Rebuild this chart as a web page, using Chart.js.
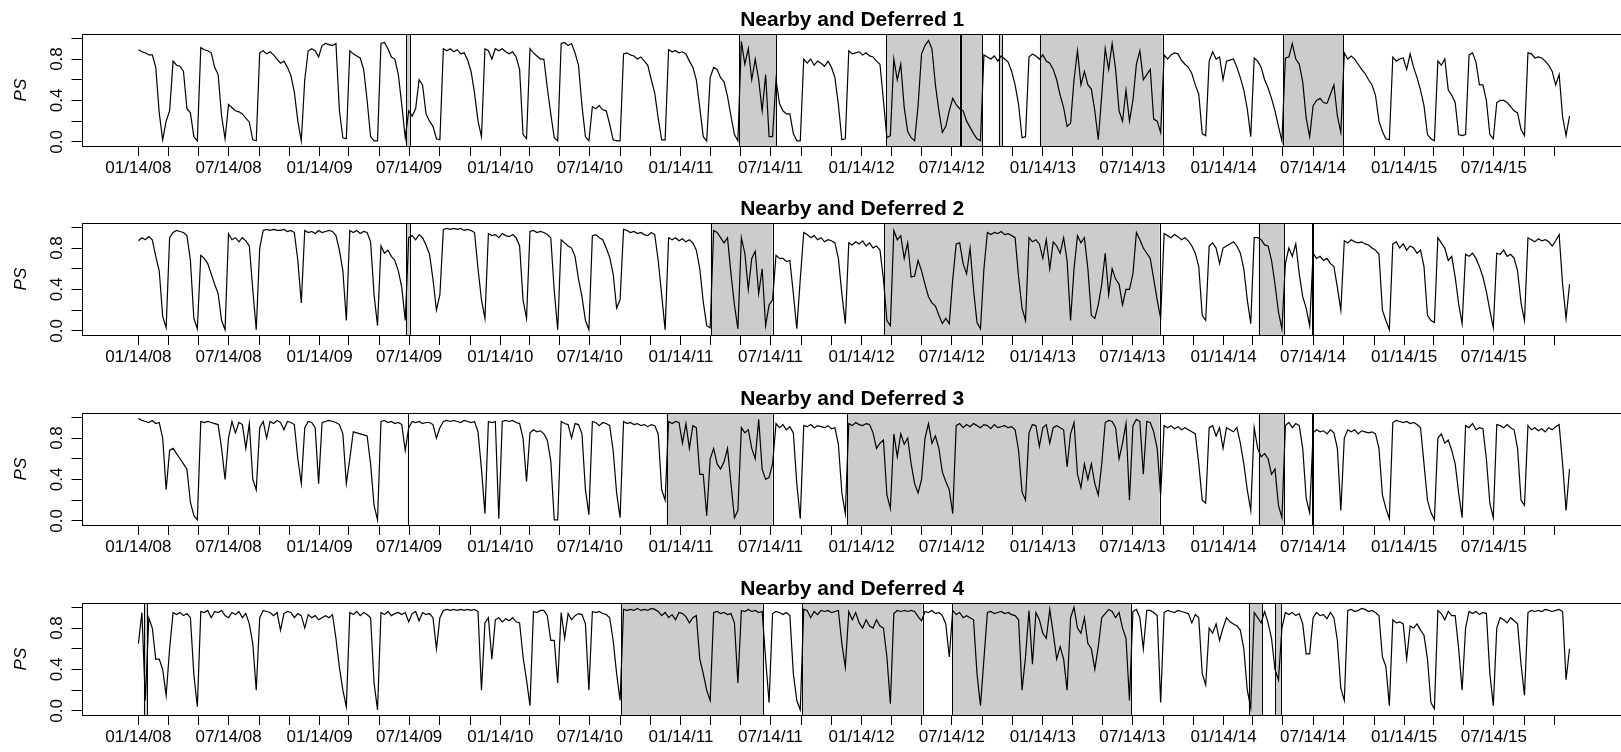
<!DOCTYPE html>
<html>
<head>
<meta charset="utf-8">
<script src="https://cdn.jsdelivr.net/npm/chart.js@4/dist/chart.umd.min.js"></script>
<style>
  html, body { margin: 0; padding: 0; background: #fff; overflow: hidden; width: 1621px; height: 752px; }
  .panel { position: absolute; left: 0; width: 1625px; height: 190px; }
</style>
</head>
<body>
<div class="panel" style="top:0px"><canvas id="c0" width="1625" height="190"></canvas></div>
<div class="panel" style="top:189px"><canvas id="c1" width="1625" height="190"></canvas></div>
<div class="panel" style="top:379px"><canvas id="c2" width="1625" height="190"></canvas></div>
<div class="panel" style="top:569px"><canvas id="c3" width="1625" height="190"></canvas></div>
<script>
// Weekly PS observations, starting 2008-01-14
const startDate = '2008-01-14';
const stepDays = 7;

const ps1 = [
0.89,0.87,0.86,0.84,0.84,0.72,0.28,0.02,0.2,0.3,
0.78,0.74,0.73,0.68,0.32,0.28,0.05,0.01,0.91,0.89,
0.88,0.86,0.72,0.65,0.25,0.03,0.36,0.33,0.30,0.29,
0.27,0.23,0.19,0.02,0.01,0.86,0.88,0.85,0.87,0.84,
0.8,0.76,0.78,0.72,0.64,0.48,0.2,0.01,0.6,0.88,
0.9,0.88,0.82,0.93,0.95,0.94,0.93,0.95,0.3,0.04,
0.03,0.88,0.85,0.83,0.81,0.7,0.4,0.05,0.01,0.01,
0.95,0.96,0.9,0.82,0.8,0.65,0.36,0.04,0.3,0.25,
0.32,0.6,0.55,0.27,0.2,0.15,0.03,0.02,0.9,0.88,
0.9,0.87,0.89,0.85,0.86,0.79,0.68,0.47,0.2,0.05,
0.9,0.88,0.8,0.9,0.88,0.9,0.87,0.85,0.87,0.82,
0.7,0.07,0.03,0.9,0.86,0.83,0.8,
0.8,0.52,0.27,0.04,0.01,0.95,0.96,0.93,0.95,0.86,
0.74,0.35,0.05,0.01,0.34,0.32,0.35,0.31,0.3,0.17,
0.02,0.01,0.01,0.85,0.86,0.84,0.83,0.8,0.82,0.78,
0.74,0.6,0.47,0.23,0.02,0.02,0.89,0.87,0.88,0.86,
0.87,0.85,0.78,0.72,0.6,0.33,0.05,0.01,0.62,0.72,
0.7,0.62,0.58,0.44,0.25,0.07,0.01,0.97,0.75,0.9,
0.6,0.8,0.6,0.3,0.65,0.05,0.05,0.6,0.37,0.3,
0.27,0.27,0.08,0.01,0.01,0.8,0.76,0.8,0.74,0.78,
0.76,0.73,0.78,0.72,0.62,0.36,0.02,0.03,0.88,0.85,
0.86,0.87,0.84,0.86,0.83,0.82,0.78,0.75,0.4,0.04,
0.06,0.8,0.6,0.75,0.33,0.1,0.04,0.01,0.35,0.85,
0.93,0.98,0.9,0.55,0.3,0.09,0.15,0.3,0.42,0.36,
0.32,0.3,0.2,0.14,0.08,0.03,0.01,0.84,0.82,0.8,
0.83,0.78,0.83,0.8,0.77,0.68,0.55,0.36,0.04,0.05,
0.82,0.85,0.83,0.8,0.84,0.78,0.76,0.7,0.6,0.45,
0.33,0.15,0.18,0.6,0.88,0.55,
0.68,0.55,0.51,0.3,0.02,0.45,0.9,0.7,0.95,0.7,
0.3,0.2,0.5,0.2,0.4,0.75,0.88,0.6,0.65,0.7,
0.22,0.2,0.09,0.84,0.8,0.84,0.86,0.85,0.79,0.75,
0.72,0.66,0.55,0.46,0.08,0.06,0.78,0.87,0.8,0.82,
0.6,0.78,0.79,0.8,0.72,0.62,0.5,0.32,0.05,0.81,
0.78,0.72,0.6,0.52,0.42,0.3,0.15,0.01,0.81,0.82,
0.95,0.8,0.75,0.58,0.23,0.05,0.35,0.4,0.42,0.38,
0.37,0.46,0.55,0.25,0.09,0.86,0.8,0.83,0.8,0.75,
0.7,0.66,0.6,0.55,0.45,0.2,0.1,0.03,0.02,0.82,
0.78,0.8,0.81,0.7,0.85,0.72,0.62,0.5,0.35,0.07,
0.03,0.01,0.78,0.74,0.8,0.5,0.45,0.38,0.07,0.06,
0.07,0.84,0.86,0.77,0.55,0.55,0.4,0.07,0.03,0.38,
0.4,0.4,0.38,0.34,0.3,0.28,0.12,0.06,0.86,0.85,
0.81,0.82,0.81,0.78,0.74,0.68,0.55,0.65,0.24,0.06,0.25
];

const ps2 = [
0.87,0.9,0.88,0.91,0.88,0.72,0.58,0.14,0.03,0.9,
0.95,0.97,0.96,0.95,0.92,0.68,0.12,0.02,0.73,0.7,
0.65,0.55,0.45,0.36,0.1,0.01,0.94,0.88,0.9,0.86,
0.9,0.87,0.82,0.4,0.01,0.8,0.97,0.98,0.97,0.98,
0.97,0.97,0.98,0.96,0.97,0.95,0.68,0.27,0.97,0.95,
0.96,0.94,0.97,0.95,0.96,0.97,0.96,0.92,0.78,0.58,
0.1,0.97,0.95,0.97,0.94,0.96,0.95,0.86,0.35,0.05,
0.82,0.75,0.78,0.72,0.68,0.58,0.42,0.1,0.9,0.92,
0.88,0.93,0.9,0.83,0.74,0.5,0.2,0.35,0.98,0.99,
0.98,0.99,0.98,0.99,0.97,0.98,0.97,0.95,0.6,0.3,
0.12,0.94,0.92,0.93,0.9,0.94,0.92,0.91,0.93,0.9,
0.82,0.3,0.12,0.96,0.97,0.95,0.96,
0.95,0.93,0.9,0.39,0.01,0.88,0.85,0.82,0.8,0.72,
0.5,0.33,0.1,0.01,0.92,0.93,0.9,0.88,0.8,0.71,
0.55,0.22,0.3,0.98,0.97,0.95,0.96,0.94,0.95,0.93,
0.92,0.95,0.93,0.68,0.35,0.01,0.9,0.88,0.9,0.87,
0.89,0.86,0.88,0.85,0.78,0.6,0.28,0.05,0.03,0.97,
0.95,0.9,0.85,0.9,0.55,0.25,0.02,0.9,0.75,0.4,
0.7,0.77,0.36,0.6,0.05,0.25,0.3,0.73,0.7,0.7,
0.67,0.68,0.36,0.02,0.5,0.95,0.93,0.9,0.92,0.88,
0.9,0.86,0.88,0.87,0.85,0.7,0.36,0.07,0.85,0.83,
0.86,0.84,0.87,0.82,0.85,0.8,0.82,0.78,0.5,0.1,
0.05,0.97,0.88,0.92,0.7,0.85,0.52,0.53,0.68,0.58,
0.45,0.33,0.27,0.24,0.15,0.07,0.12,0.07,0.5,0.84,
0.85,0.65,0.55,0.8,0.4,0.08,0.02,0.6,0.95,0.93,
0.95,0.94,0.96,0.93,0.94,0.92,0.9,0.52,0.22,0.1,
0.9,0.86,0.88,0.84,0.7,0.88,0.6,0.86,0.82,0.75,
0.9,0.68,0.1,0.6,0.92,0.85,
0.9,0.6,0.15,0.12,0.25,0.45,0.75,0.35,0.6,0.5,
0.45,0.25,0.4,0.4,0.55,0.95,0.88,0.8,0.75,0.7,
0.5,0.3,0.12,0.94,0.92,0.9,0.93,0.91,0.88,0.9,
0.87,0.82,0.75,0.62,0.15,0.1,0.82,0.85,0.8,0.65,
0.8,0.82,0.84,0.86,0.82,0.75,0.6,0.3,0.07,0.9,
0.9,0.88,0.83,0.82,0.68,0.45,0.18,0.02,0.65,0.8,
0.72,0.84,0.55,0.33,0.22,0.05,0.75,0.7,0.72,0.68,
0.7,0.65,0.62,0.42,0.2,0.87,0.85,0.88,0.86,0.85,
0.86,0.84,0.83,0.8,0.78,0.74,0.2,0.1,0.01,0.84,
0.86,0.8,0.84,0.78,0.82,0.8,0.75,0.78,0.62,0.15,
0.1,0.08,0.9,0.85,0.8,0.68,0.72,0.52,0.26,0.07,
0.74,0.72,0.75,0.7,0.62,0.52,0.38,0.2,0.03,0.75,
0.74,0.78,0.72,0.74,0.7,0.58,0.27,0.1,0.9,0.88,
0.86,0.89,0.87,0.88,0.86,0.82,0.87,0.93,0.45,0.12,0.45
];

const ps3 = [
0.99,0.97,0.96,0.95,0.97,0.94,0.95,0.8,0.3,0.68,
0.7,0.65,0.6,0.55,0.5,0.18,0.05,0.01,0.96,0.95,
0.96,0.95,0.94,0.93,0.7,0.4,0.8,0.96,0.85,0.95,
0.93,0.7,0.94,0.4,0.3,0.9,0.96,0.8,0.96,0.94,
0.97,0.95,0.88,0.96,0.95,0.93,0.6,0.36,0.9,0.96,
0.95,0.9,0.36,0.95,0.96,0.97,0.96,0.95,0.93,0.84,
0.36,0.6,0.86,0.85,0.84,0.83,0.82,0.55,0.15,0.01,
0.96,0.97,0.95,0.96,0.94,0.95,0.93,0.68,0.9,0.96,
0.95,0.96,0.94,0.95,0.95,0.93,0.8,0.9,0.96,0.97,
0.96,0.97,0.96,0.95,0.97,0.96,0.95,0.96,0.86,0.5,
0.07,0.96,0.95,0.96,0.02,0.96,0.97,0.96,0.97,0.95,
0.94,0.8,0.38,0.85,0.88,0.86,0.87,
0.84,0.78,0.58,0.01,0.01,0.96,0.94,0.93,0.8,0.94,
0.93,0.84,0.3,0.06,0.96,0.95,0.92,0.95,0.94,0.92,
0.68,0.27,0.03,0.96,0.94,0.95,0.93,0.94,0.92,0.93,
0.91,0.93,0.92,0.84,0.3,0.2,0.96,0.94,0.96,0.95,
0.75,0.94,0.7,0.92,0.9,0.45,0.45,0.05,0.6,0.7,
0.55,0.5,0.57,0.7,0.36,0.03,0.1,0.9,0.85,0.88,
0.7,0.6,0.98,0.5,0.4,0.42,0.55,0.94,0.9,0.93,
0.88,0.91,0.85,0.36,0.02,0.92,0.91,0.93,0.9,0.92,
0.91,0.9,0.92,0.89,0.9,0.74,0.27,0.07,0.94,0.92,
0.95,0.93,0.92,0.94,0.93,0.85,0.7,0.75,0.78,0.25,
0.12,0.84,0.62,0.84,0.74,0.8,0.55,0.36,0.27,0.4,
0.8,0.94,0.75,0.82,0.7,0.47,0.38,0.3,0.07,0.92,
0.94,0.9,0.93,0.91,0.94,0.92,0.9,0.93,0.92,0.89,
0.93,0.9,0.91,0.92,0.9,0.91,0.88,0.68,0.28,0.2,
0.85,0.93,0.92,0.72,0.9,0.93,0.75,0.9,0.92,0.9,
0.88,0.52,0.84,0.95,0.45,0.32,
0.55,0.4,0.55,0.36,0.25,0.55,0.95,0.97,0.96,0.9,
0.6,0.75,0.94,0.2,0.92,0.98,0.96,0.45,0.96,0.95,
0.86,0.7,0.25,0.92,0.9,0.92,0.89,0.91,0.88,0.9,
0.88,0.86,0.84,0.55,0.2,0.17,0.9,0.92,0.82,0.9,
0.7,0.9,0.88,0.86,0.9,0.75,0.55,0.3,0.1,0.9,
0.7,0.62,0.65,0.6,0.45,0.5,0.15,0.03,0.92,0.95,
0.9,0.94,0.92,0.7,0.22,0.08,0.85,0.88,0.86,0.87,
0.84,0.88,0.85,0.7,0.1,0.8,0.88,0.86,0.88,0.84,
0.87,0.86,0.85,0.86,0.84,0.7,0.25,0.12,0.02,0.95,
0.97,0.96,0.95,0.96,0.94,0.95,0.93,0.9,0.55,0.2,
0.08,0.01,0.8,0.84,0.75,0.78,0.68,0.55,0.27,0.03,
0.92,0.9,0.94,0.88,0.9,0.89,0.6,0.17,0.03,0.93,
0.92,0.9,0.93,0.9,0.88,0.7,0.2,0.15,0.92,0.88,
0.9,0.87,0.89,0.86,0.9,0.88,0.91,0.93,0.55,0.1,0.5
];

const ps4 = [
0.65,0.95,0.1,0.9,0.8,0.5,0.5,0.4,0.15,0.6,
0.95,0.93,0.95,0.92,0.94,0.9,0.35,0.04,0.96,0.95,
0.97,0.9,0.96,0.95,0.97,0.92,0.9,0.95,0.93,0.96,
0.9,0.94,0.84,0.65,0.2,0.9,0.97,0.96,0.95,0.92,
0.95,0.78,0.94,0.96,0.95,0.9,0.94,0.92,0.8,0.93,
0.9,0.92,0.88,0.9,0.92,0.9,0.93,0.7,0.42,0.2,
0.04,0.95,0.93,0.96,0.92,0.95,0.93,0.9,0.27,0.01,
0.95,0.93,0.96,0.92,0.94,0.95,0.93,0.95,0.86,0.94,
0.96,0.87,0.95,0.93,0.94,0.9,0.6,0.9,0.97,0.98,
0.97,0.98,0.97,0.98,0.97,0.98,0.97,0.98,0.96,0.2,
0.85,0.9,0.5,0.88,0.9,0.86,0.89,0.87,0.9,0.86,
0.85,0.52,0.3,0.05,0.96,0.95,0.97,
0.97,0.92,0.68,0.68,0.27,0.95,0.7,0.94,0.88,0.92,
0.94,0.93,0.84,0.2,0.96,0.95,0.96,0.94,0.93,0.9,
0.68,0.36,0.1,0.98,0.97,0.98,0.97,0.99,0.97,0.98,
0.97,0.99,0.98,0.96,0.92,0.95,0.9,0.93,0.88,0.95,
0.94,0.91,0.85,0.9,0.92,0.5,0.36,0.2,0.1,0.95,
0.96,0.94,0.95,0.93,0.94,0.85,0.27,0.97,0.96,0.98,
0.96,0.97,0.95,0.96,0.5,0.08,0.94,0.96,0.95,0.93,
0.95,0.92,0.36,0.1,0.01,0.98,0.97,0.9,0.96,0.93,
0.97,0.96,0.97,0.95,0.96,0.97,0.65,0.42,0.96,0.88,
0.95,0.85,0.8,0.88,0.82,0.8,0.88,0.82,0.8,0.52,
0.07,0.94,0.97,0.96,0.97,0.96,0.97,0.96,0.91,0.87,
0.96,0.95,0.97,0.94,0.95,0.92,0.84,0.52,0.97,0.93,
0.95,0.9,0.92,0.9,0.88,0.36,0.05,0.5,0.95,0.96,
0.94,0.95,0.96,0.94,0.95,0.93,0.92,0.88,0.2,0.52,
0.97,0.45,0.95,0.88,0.75,0.7,0.98,0.75,0.5,0.62,
0.5,0.2,0.9,1.0,0.8,0.75,
0.9,0.65,0.6,0.4,0.62,0.9,0.94,0.98,0.96,0.9,
0.95,0.8,0.7,0.1,0.96,0.98,0.9,0.6,0.97,0.97,
0.95,0.92,0.08,0.95,0.97,0.96,0.95,0.97,0.96,0.95,
0.94,0.85,0.93,0.9,0.36,0.25,0.8,0.75,0.84,0.68,
0.8,0.9,0.86,0.84,0.82,0.78,0.6,0.2,0.03,0.95,
0.9,0.85,0.96,0.85,0.7,0.4,0.3,0.8,0.95,0.93,
0.95,0.92,0.94,0.84,0.55,0.55,0.9,0.95,0.92,0.93,
0.89,0.95,0.9,0.68,0.22,0.1,0.97,0.98,0.96,0.97,
0.99,0.98,0.96,0.97,0.95,0.92,0.52,0.43,0.05,0.88,
0.85,0.86,0.84,0.5,0.82,0.8,0.84,0.78,0.73,0.5,
0.08,0.02,0.97,0.94,0.88,0.96,0.92,0.92,0.6,0.2,
0.8,0.96,0.94,0.96,0.93,0.95,0.94,0.36,0.05,0.8,
0.9,0.88,0.85,0.9,0.87,0.84,0.45,0.15,0.95,0.97,
0.96,0.97,0.96,0.98,0.97,0.96,0.97,0.98,0.96,0.3,0.6
];

// Shaded periods [from, to] for each panel
const shade1 = [['2009-07-08','2009-07-15'],['2011-05-11','2011-07-25'],['2012-03-04','2012-07-30'],
  ['2012-08-02','2012-09-13'],['2012-10-17','2012-10-24'],['2013-01-08','2013-09-13'],['2014-05-14','2014-09-13']];
const shade2 = [['2009-07-08','2009-07-15'],['2011-03-15','2011-07-18'],['2012-02-29','2013-09-07'],
  ['2014-03-26','2014-05-16'],['2014-07-12','2014-07-13']];
const shade3 = [['2009-07-11','2009-07-12'],['2010-12-16','2011-07-18'],['2011-12-15','2013-09-07'],
  ['2014-03-26','2014-05-16'],['2014-07-12','2014-07-13']];
const shade4 = [['2008-01-25','2008-01-31'],['2010-09-15','2011-06-29'],['2011-09-16','2012-05-16'],
  ['2012-07-15','2013-07-12'],['2014-03-06','2014-04-02'],['2014-04-28','2014-05-10']];

const panelTitles = ['Nearby and Deferred 1','Nearby and Deferred 2','Nearby and Deferred 3','Nearby and Deferred 4'];
const yAxisTitle = 'PS';
const yTickValues = [0, 0.2, 0.4, 0.6, 0.8, 1.0];
const yTickLabels = ['0.0', '', '0.4', '', '0.8', ''];
const xTickLabels = ['01/14/08','07/14/08','01/14/09','07/14/09','01/14/10','07/14/10','01/14/11','07/14/11',
  '01/14/12','07/14/12','01/14/13','07/14/13','01/14/14','07/14/14','01/14/15','07/14/15'];
const xTickFirst = '2008-01-14', xTickLast = '2015-11-14', xTickStepMonths = 2;

const FONT = "'Liberation Sans', Arial, sans-serif";
const X_MIN = -115, X_MAX = 2999;   // days relative to startDate
const Y_MIN = -0.04, Y_MAX = 1.04;

function dayOf(s) {
  const [y, m, d] = s.split('-').map(Number);
  const [y0, m0, d0] = startDate.split('-').map(Number);
  return Math.round((Date.UTC(y, m - 1, d) - Date.UTC(y0, m0 - 1, d0)) / 864e5);
}
function fmt(y, m, d) {
  const p = n => String(n).padStart(2, '0');
  return p(m) + '/' + p(d) + '/' + p(y % 100);
}

// two-monthly tick marks; only some carry a label
const xTicks = [];
(function () {
  let [y, m, d] = xTickFirst.split('-').map(Number);
  const last = dayOf(xTickLast);
  while (true) {
    const iso = y + '-' + String(m).padStart(2, '0') + '-' + String(d).padStart(2, '0');
    const day = dayOf(iso);
    if (day > last) break;
    const txt = fmt(y, m, d);
    xTicks.push({ day, label: xTickLabels.includes(txt) ? txt : '' });
    m += xTickStepMonths;
    if (m > 12) { m -= 12; y += 1; }
  }
})();

function toPoints(values) {
  return values.map((v, i) => ({ x: i * stepDays, y: v }));
}

const shadePlugin = {
  id: 'shade',
  beforeDatasetsDraw(chart, args, opts) {
    const { ctx, chartArea: a, scales: { x } } = chart;
    ctx.save();
    ctx.beginPath();
    ctx.rect(a.left, a.top, a.right - a.left, a.bottom - a.top);
    ctx.clip();
    for (const [from, to] of opts.periods) {
      const x0 = x.getPixelForValue(dayOf(from));
      const x1 = x.getPixelForValue(dayOf(to));
      ctx.fillStyle = '#CCCCCC';
      ctx.fillRect(x0, a.top, x1 - x0, a.bottom - a.top);
      ctx.strokeStyle = '#000';
      ctx.lineWidth = 1;
      ctx.beginPath();
      ctx.moveTo(Math.round(x0) + 0.5, a.top); ctx.lineTo(Math.round(x0) + 0.5, a.bottom);
      ctx.moveTo(Math.round(x1) + 0.5, a.top); ctx.lineTo(Math.round(x1) + 0.5, a.bottom);
      ctx.stroke();
    }
    ctx.restore();
  }
};

const framePlugin = {
  id: 'frame',
  afterDraw(chart) {
    const { ctx, chartArea: a, scales: { y } } = chart;
    ctx.save();
    ctx.strokeStyle = '#000';
    ctx.lineWidth = 1;
    ctx.strokeRect(Math.round(a.left) + 0.5, Math.round(a.top) + 0.5,
      Math.round(a.right - a.left), Math.round(a.bottom - a.top));
    // rotated y tick labels
    ctx.fillStyle = '#000';
    ctx.font = '17px ' + FONT;
    ctx.textAlign = 'center';
    ctx.textBaseline = 'middle';
    yTickValues.forEach((v, i) => {
      if (!yTickLabels[i]) return;
      ctx.save();
      ctx.translate(y.right - 24, y.getPixelForValue(v));
      ctx.rotate(-Math.PI / 2);
      ctx.fillText(yTickLabels[i], 0, 0);
      ctx.restore();
    });
    ctx.restore();
  }
};

const series = [ps1, ps2, ps3, ps4];
const shades = [shade1, shade2, shade3, shade4];

series.forEach((vals, k) => {
  new Chart(document.getElementById('c' + k), {
    type: 'line',
    data: {
      datasets: [{
        data: toPoints(vals),
        borderColor: '#000',
        borderWidth: 1.2,
        pointRadius: 0,
        tension: 0,
        fill: false
      }]
    },
    options: {
      responsive: false,
      animation: false,
      events: [],
      layout: { padding: { left: 0, right: 2, top: 0, bottom: 0 } },
      plugins: {
        legend: { display: false },
        tooltip: { enabled: false },
        title: {
          display: true,
          fullSize: false,
          text: panelTitles[k],
          color: '#000',
          font: { family: FONT, size: 21, weight: 'bold' },
          padding: { top: 8, bottom: 1 }
        },
        shade: { periods: shades[k] }
      },
      scales: {
        x: {
          type: 'linear',
          min: X_MIN,
          max: X_MAX,
          afterBuildTicks: s => { s.ticks = xTicks.map(t => ({ value: t.day })); },
          afterFit: s => { s.height = 44; },
          ticks: {
            autoSkip: false, maxRotation: 0, minRotation: 0,
            color: '#000', padding: 2,
            font: { family: FONT, size: 17 },
            callback: v => { const t = xTicks.find(t => t.day === v); return t ? t.label : ''; }
          },
          grid: { drawOnChartArea: false, drawTicks: true, tickLength: 10, color: '#000', tickColor: '#000', lineWidth: 1 },
          border: { display: false }
        },
        y: {
          min: Y_MIN,
          max: Y_MAX,
          afterBuildTicks: s => { s.ticks = yTickValues.map(v => ({ value: v })); },
          afterFit: s => { s.width = 81.5; },
          ticks: { display: false },
          grid: { drawOnChartArea: false, drawTicks: true, tickLength: 10, color: '#000', tickColor: '#000', lineWidth: 1 },
          border: { display: false },
          title: {
            display: true, text: yAxisTitle, color: '#000',
            font: { family: FONT, size: 17, style: 'italic' },
            padding: { top: 11, bottom: 0 }
          }
        }
      }
    },
    plugins: [shadePlugin, framePlugin]
  });
});
</script>
</body>
</html>
